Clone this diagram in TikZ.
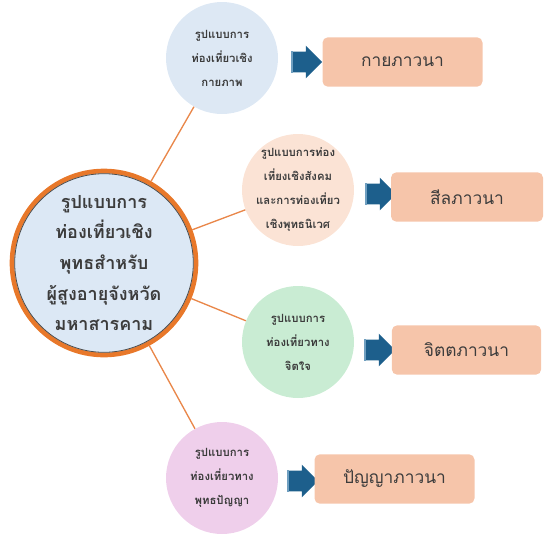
\documentclass[tikz,border=0pt]{standalone}
\usepackage{fontspec}
\newfontfamily\thaifont[Script=Thai]{Loma}
\newcommand\tightlines{\lineskiplimit=-20pt\relax}
\usetikzlibrary{shapes.arrows}
\definecolor{hubfill}{HTML}{DCE8F5}
\definecolor{hubring}{HTML}{E8782A}
\definecolor{linkline}{HTML}{E9874A}
\definecolor{bodyfill}{HTML}{DDE8F4}
\definecolor{socialfill}{HTML}{FBE3D5}
\definecolor{mindfill}{HTML}{C9ECD3}
\definecolor{wisdomfill}{HTML}{EFCFEB}
\definecolor{boxfill}{HTML}{F6C5AA}
\definecolor{arrowblue}{HTML}{1D5F8C}
\definecolor{arrowedge}{HTML}{6F9FC0}
\definecolor{txt}{HTML}{3C3C3C}
\tikzset{
  hub/.style={circle, fill=hubfill, draw=hubring, line width=3.5pt, minimum size=138pt, inner sep=0pt},
  form/.style={circle, minimum size=84pt, inner sep=0pt},
  formtext/.style={align=center, text=txt, font=\thaifont\bfseries\fontsize{8.5}{18}\selectfont\tightlines},
  practice/.style={rounded corners=4pt, fill=boxfill, minimum width=120pt, minimum height=37pt, text=txt, font=\thaifont\fontsize{13}{15}\selectfont},
  blockarrow/.style={single arrow, fill=arrowblue, inner xsep=0pt, inner ysep=7.5pt, minimum height=22.5pt, single arrow head extend=4.5pt},
  arrowlight/.style={arrowedge, line width=1.2pt}
}
\begin{document}
\begin{tikzpicture}[x=0.75pt,y=0.75pt,yscale=-1,xscale=1]
\useasboundingbox (0,0) rectangle (544,537);

%Shape: Circle [id:hub]
\node [form, fill=bodyfill] (body) at (222,58) {};
\node [form, fill=socialfill] (social) at (298,190) {};
\node [form, fill=mindfill] (mind) at (298,342) {};
\node [form, fill=wisdomfill] (wisdom) at (222,478) {};
\node [hub] (center) at (104,263) {};
\draw [black!70, line width=0.6pt] (center.center) circle [radius=89.3];

%Straight Lines
\draw [linkline, line width=1pt] (center) -- (body);
\draw [linkline, line width=1pt] (center) -- (social);
\draw [linkline, line width=1pt] (center) -- (mind);
\draw [linkline, line width=1pt] (center) -- (wisdom);

% Text Node
\node [align=center, text=txt, font=\thaifont\bfseries\fontsize{13.5}{23}\selectfont\tightlines] (centertext) at (center.center) {รูปแบบการ\\ท่องเที่ยวเชิง\\พุทธสำหรับ\\ผู้สูงอายุจังหวัด\\มหาสารคาม};
\node [formtext] (bodytext) at (body.center) {รูปแบบการ\\ท่องเที่ยวเชิง\\กายภาพ};
\node [formtext] (socialtext) at (social.center) {รูปแบบการท่อง\\เที่ยงเชิงสังคม\\และการท่องเที่ยว\\เชิงพุทธนิเวศ};
\node [formtext] (mindtext) at (mind.center) {รูปแบบการ\\ท่องเที่ยวทาง\\จิตใจ};
\node [formtext] (wisdomtext) at (wisdom.center) {รูปแบบการ\\ท่องเที่ยวทาง\\พุทธปัญญา};

%Shape: Arrow
\node [blockarrow] (arr1) at (302,62) {};
\node [blockarrow] (arr2) at (376,194) {};
\node [blockarrow] (arr3) at (375,350) {};
\node [blockarrow] (arr4) at (298,481) {};
\draw [arrowlight] (arr1.before tail) -- (arr1.after tail);
\draw [arrowlight] (arr2.before tail) -- (arr2.after tail);
\draw [arrowlight] (arr3.before tail) -- (arr3.after tail);
\draw [arrowlight] (arr4.before tail) -- (arr4.after tail);

%Shape: Rectangle
\node [practice, minimum width=120pt] (kaya) at (402.5,62) {กายภาวนา};
\node [practice, minimum width=114pt] (sila) at (467,197) {สีลภาวนา};
\node [practice, minimum width=112pt] (citta) at (466.5,350) {จิตตภาวนา};
\node [practice, minimum width=120pt] (panna) at (394.5,479) {ปัญญาภาวนา};
\end{tikzpicture}
\end{document}
